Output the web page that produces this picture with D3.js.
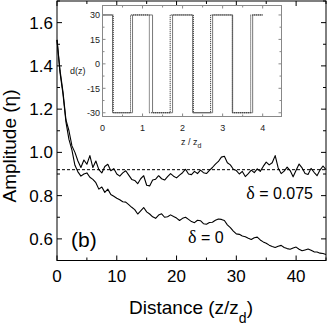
<!DOCTYPE html>
<html>
<head>
<style>
  body { margin: 0; background: #fff; }
  svg { display: block; font-family: "Liberation Sans", Arial, sans-serif; }
</style>
</head>
<body>
<svg width="327" height="327" class="chart"></svg>
<script src="https://cdn.jsdelivr.net/npm/d3@7/dist/d3.min.js"></script>
<script>
// amplitude vs distance, sampled every 0.5 z/zd from 0 to 45
const zStep = 0.5
const ampDelta075 = [1.52,1.38,1.28,1.15,1.10,1.03,1.00,0.96,0.93,0.965,0.945,0.985,0.93,0.96,0.92,0.905,0.935,0.945,0.915,0.925,
  0.90,0.89,0.905,0.915,0.895,0.875,0.87,0.855,0.878,0.892,0.848,0.845,0.872,0.876,0.892,0.878,0.872,0.888,0.902,0.89,
  0.882,0.895,0.906,0.922,0.9,0.897,0.912,0.902,0.918,0.906,0.902,0.917,0.93,0.946,0.958,0.978,0.982,0.952,0.942,0.922,
  0.916,0.9,0.912,0.888,0.902,0.918,0.906,0.924,0.912,0.935,0.955,0.942,0.952,0.985,0.928,0.902,0.913,0.932,0.916,0.887,
  0.917,0.946,0.928,0.902,0.898,0.926,0.908,0.892,0.918,0.937,0.92]
const ampDelta0 = [1.52,1.37,1.27,1.14,1.06,1.01,0.94,0.91,0.89,0.90,0.905,0.885,0.875,0.86,0.83,0.84,0.815,0.83,0.805,0.797,
  0.788,0.781,0.772,0.77,0.758,0.746,0.735,0.715,0.73,0.745,0.725,0.715,0.702,0.695,0.71,0.716,0.70,0.702,0.711,0.703,
  0.696,0.685,0.695,0.70,0.69,0.68,0.675,0.686,0.684,0.67,0.668,0.676,0.677,0.686,0.692,0.69,0.685,0.665,0.652,0.636,
  0.623,0.621,0.613,0.61,0.603,0.597,0.605,0.608,0.595,0.586,0.58,0.571,0.565,0.56,0.566,0.57,0.56,0.555,0.552,0.558,
  0.562,0.552,0.545,0.549,0.553,0.547,0.54,0.539,0.534,0.532,0.528]
const refLevel = 0.92
const xTicks = [0, 10, 20, 30, 40]
const yTicks = [0.6, 0.8, 1.0, 1.2, 1.4, 1.6]

// inset: d(z) square wave, switch points in z/zd
const dLevel = 30
const switchesRegular = [0.25, 0.75, 1.25, 1.75, 2.25, 2.75, 3.25, 3.75]
const switchesRandom = [0.27, 0.70, 1.17, 1.69, 2.27, 2.70, 3.24, 3.70]
const waveEnd = 4
const insetXTicks = [0, 1, 2, 3, 4]
const insetYTicks = [-30, -15, 0, 15, 30]

const svg = d3.select('.chart')

x = d3.scaleLinear().domain([0, 45]).range([57, 326])
y = d3.scaleLinear().domain([0.5, 1.7]).range([260.5, 1])

// frame + ticks (inward, all sides)
function frameTicks(g, xs, ys, xMajor, xMinor, yMajor, yMinor, big, small) {
  const [x0, x1] = xs.range(), [y0, y1] = ys.range()
  g.append('rect').attr('x', x0).attr('y', y1).attr('width', x1 - x0).attr('height', y0 - y1)
    .attr('fill', 'none').attr('class', 'frame')
  const tk = []
  xMajor.forEach(v => tk.push([xs(v), y0, xs(v), y0 - big], [xs(v), y1, xs(v), y1 + big]))
  xMinor.forEach(v => tk.push([xs(v), y0, xs(v), y0 - small], [xs(v), y1, xs(v), y1 + small]))
  yMajor.forEach(v => tk.push([x0, ys(v), x0 + big, ys(v)], [x1, ys(v), x1 - big, ys(v)]))
  yMinor.forEach(v => tk.push([x0, ys(v), x0 + small, ys(v)], [x1, ys(v), x1 - small, ys(v)]))
  g.selectAll('line.tick').data(tk).enter().append('line').attr('class', 'tick')
    .attr('x1', d => d[0]).attr('y1', d => d[1]).attr('x2', d => d[2]).attr('y2', d => d[3])
}

const main = svg.append('g')

const line = d3.line().x((d, i) => x(i * zStep)).y(d => y(d))

main.append('line')
  .attr('x1', x(0)).attr('x2', x(45)).attr('y1', y(refLevel)).attr('y2', y(refLevel))
  .attr('stroke', '#000').attr('stroke-width', 1).attr('stroke-dasharray', '3,2')

;[ampDelta0, ampDelta075].forEach(s => {
  main.append('path').datum(s).attr('d', line)
    .attr('fill', 'none').attr('stroke', '#000').attr('stroke-width', 1.1).attr('stroke-linejoin', 'round')
})

const mf = main.append('g').attr('stroke', '#000').attr('stroke-width', 1)
frameTicks(mf, x, y, xTicks, [5, 15, 25, 35, 45], yTicks, [0.5, 0.7, 0.9, 1.1, 1.3, 1.5, 1.7], 5, 3)
mf.select('.frame').attr('stroke', '#000')

main.selectAll('text.xt').data(xTicks).enter().append('text')
  .attr('x', d => x(d)).attr('y', 282).attr('text-anchor', 'middle')
  .attr('font-size', 17).text(d => d)
main.selectAll('text.yt').data(yTicks).enter().append('text')
  .attr('x', 53).attr('y', d => y(d)).attr('dy', '0.36em').attr('text-anchor', 'end')
  .attr('font-size', 17).text(d => d3.format('.1f')(d))

const xl = main.append('text').attr('x', 191).attr('y', 314).attr('text-anchor', 'middle').attr('font-size', 19)
xl.append('tspan').text('Distance (z/z')
xl.append('tspan').attr('dy', 9).attr('font-size', 14).text('d')
xl.append('tspan').attr('dy', -9).text(')')

main.append('text').attr('transform', 'translate(16,146) rotate(-90)')
  .attr('text-anchor', 'middle').attr('font-size', 19).text('Amplitude (η)')

main.append('text').attr('x', 71).attr('y', 247).attr('font-size', 21).text('(b)')

const a1 = main.append('text').attr('x', 313).attr('y', 199).attr('text-anchor', 'end').attr('font-size', 16)
a1.append('tspan').attr('font-family', 'Liberation Serif').attr('font-size', 18).text('δ')
a1.append('tspan').text(' = 0.075')
const a2 = main.append('text').attr('x', 188).attr('y', 243).attr('font-size', 16)
a2.append('tspan').attr('font-family', 'Liberation Serif').attr('font-size', 18).text('δ')
a2.append('tspan').text(' = 0')

// inset
xi = d3.scaleLinear().domain([0, 4.47]).range([102.5, 281.5])
yi = d3.scaleLinear().domain([-32.3, 35.8]).range([116.5, 5.5])

const inset = svg.append('g')
inset.append('rect').attr('x', 102.5).attr('y', 5.5).attr('width', 179).attr('height', 111).attr('fill', '#fff')

function wave(sw) {
  const pts = [[0, dLevel]]
  sw.forEach((s, i) => pts.push([s, i % 2 == 0 ? -dLevel : dLevel]))
  pts.push([waveEnd, pts[pts.length - 1][1]])
  return pts
}
const stepLine = d3.line().x(d => xi(d[0])).y(d => yi(d[1])).curve(d3.curveStepAfter)

inset.append('path').datum(wave(switchesRegular)).attr('d', stepLine)
  .attr('fill', 'none').attr('stroke', '#777').attr('stroke-width', 1)
inset.append('path').datum(wave(switchesRandom)).attr('d', stepLine)
  .attr('fill', 'none').attr('stroke', '#222').attr('stroke-width', 1).attr('stroke-dasharray', '1,1')

const fi = inset.append('g').attr('stroke', '#888').attr('stroke-width', 1)
frameTicks(fi, xi, yi, insetXTicks, [0.5, 1.5, 2.5, 3.5], insetYTicks, [-22.5, -7.5, 7.5, 22.5], 3, 2)

inset.selectAll('text.xt').data(insetXTicks).enter().append('text')
  .attr('x', d => xi(d)).attr('y', 131).attr('text-anchor', 'middle')
  .attr('font-size', 9).attr('fill', '#222').text(d => d)
inset.selectAll('text.yt').data(insetYTicks).enter().append('text')
  .attr('x', 100).attr('y', d => yi(d)).attr('dy', '0.36em').attr('text-anchor', 'end')
  .attr('font-size', 9).attr('fill', '#222').text(d => d)
inset.append('text').attr('x', 70).attr('y', 74).attr('font-size', 9).attr('fill', '#222').text('d(z)')
const zl = inset.append('text').attr('x', 181).attr('y', 145).attr('font-size', 9).attr('fill', '#222')
zl.append('tspan').text('z / z')
zl.append('tspan').attr('dy', 3).attr('font-size', 7).text('d')
</script>
</body>
</html>
